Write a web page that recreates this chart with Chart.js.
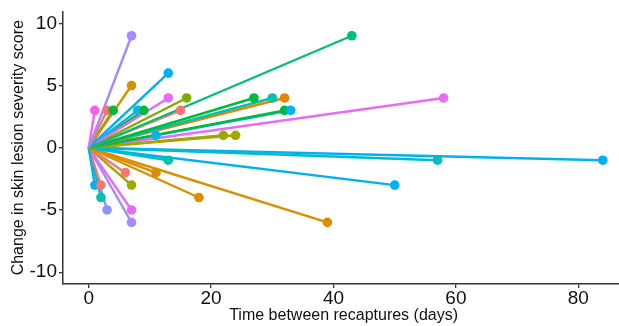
<!DOCTYPE html>
<html><head><meta charset="utf-8">
<script src="https://cdn.jsdelivr.net/npm/chart.js@4"></script>
<style>html,body{margin:0;padding:0;overflow:hidden;background:#fff}#wrap{width:629px;height:326px}</style>
</head><body><div id="wrap"><canvas id="c" width="629" height="326"></canvas></div>
<script>
// Each line: from the first capture (0 days, 0 change) to the recapture
const startDay = 0;
const startChange = 0;
const days    = [7, 43, 13, 7, 13, 16, 15, 1, 3, 4, 8, 9, 27, 30, 32, 32, 33, 22, 24, 58, 57, 84, 50, 13, 11, 18, 39, 6, 7, 1, 2, 2, 3, 7, 7, 11];
const changes = [9, 9, 6, 5, 4, 4, 3, 3, 3, 3, 3, 3, 4, 4, 4, 3, 3, 1, 1, 4, -1, -1, -3, -1, -2, -4, -6, -2, -3, -3, -3, -4, -5, -5, -6, 1];
const lineColors = ['#A58AFF','#00BF7D','#00B0F6','#D39200','#E76BF3','#7CAE00','#F8766D','#F564E3','#F8766D','#00BA38',
  '#00BCD8','#00BA38','#00BA38','#00C0AF','#E58700','#00BA38','#00B0F6','#A3A500','#A3A500','#E76BF3',
  '#00BFC4','#00B0F6','#00B0F6','#00C0AF','#DB8E00','#DB8E00','#DB8E00','#F8766D','#A3A500','#00B0F6',
  '#F8766D','#00C0AF','#8B93FF','#E76BF3','#A58AFF','#00B4F0'];
const xTicks = [0, 20, 40, 60, 80];
const yTicks = [-10, -5, 0, 5, 10];
const xTitle = 'Time between recaptures (days)';
const yTitle = 'Change in skin lesion severity score';

const FONT = "'Liberation Sans', Arial, sans-serif";
const lineSets = days.map((d, i) => ({
  type: 'line',
  data: [{x: startDay, y: startChange}, {x: d, y: changes[i]}],
  borderColor: lineColors[i],
  backgroundColor: lineColors[i],
  borderWidth: 2.4,
  pointRadius: 0,
  tension: 0,
  order: 2
}));
const pointSet = {
  type: 'scatter',
  data: days.map((d, i) => ({x: d, y: changes[i]})),
  backgroundColor: lineColors,
  borderColor: lineColors,
  borderWidth: 0,
  pointRadius: 4.8,
  pointHoverRadius: 4.8,
  order: 1
};

new Chart(document.getElementById('c'), {
  type: 'scatter',
  data: { datasets: [...lineSets, pointSet] },
  options: {
    responsive: false,
    animation: false,
    events: [],
    clip: false,
    layout: { padding: { top: 10, left: 0, right: 0, bottom: 0 } },
    plugins: { legend: { display: false }, tooltip: { enabled: false } },
    scales: {
      x: {
        type: 'linear', min: -4.2, max: 87.5,
        afterBuildTicks: s => { s.ticks = xTicks.map(v => ({value: v})); },
        afterFit: s => { s.height = 42; },
        grid: { drawOnChartArea: false, drawTicks: true, tickLength: 4, color: '#333', lineWidth: 1.3 },
        border: { display: true, color: '#333', width: 1.5 },
        ticks: { font: { family: FONT, size: 19, lineHeight: 1 }, color: '#111', padding: 1, maxRotation: 0, autoSkip: false },
        title: { display: true, text: xTitle, font: { family: FONT, size: 16, lineHeight: 1.2 }, color: '#111', padding: { top: 0, bottom: 1 } }
      },
      y: {
        type: 'linear', min: -10.95, max: 10.95,
        afterBuildTicks: s => { s.ticks = yTicks.map(v => ({value: v})); },
        afterFit: s => { s.width = 63; },
        grid: { drawOnChartArea: false, drawTicks: true, tickLength: 4, color: '#333', lineWidth: 1.3 },
        border: { display: true, color: '#333', width: 1.5 },
        ticks: { font: { family: FONT, size: 19, lineHeight: 1 }, color: '#111', padding: 2 },
        title: { display: true, text: yTitle, font: { family: FONT, size: 16, lineHeight: 1.2 }, color: '#111', padding: { top: 9, bottom: 0 } }
      }
    }
  }
});
</script>
</body></html>
